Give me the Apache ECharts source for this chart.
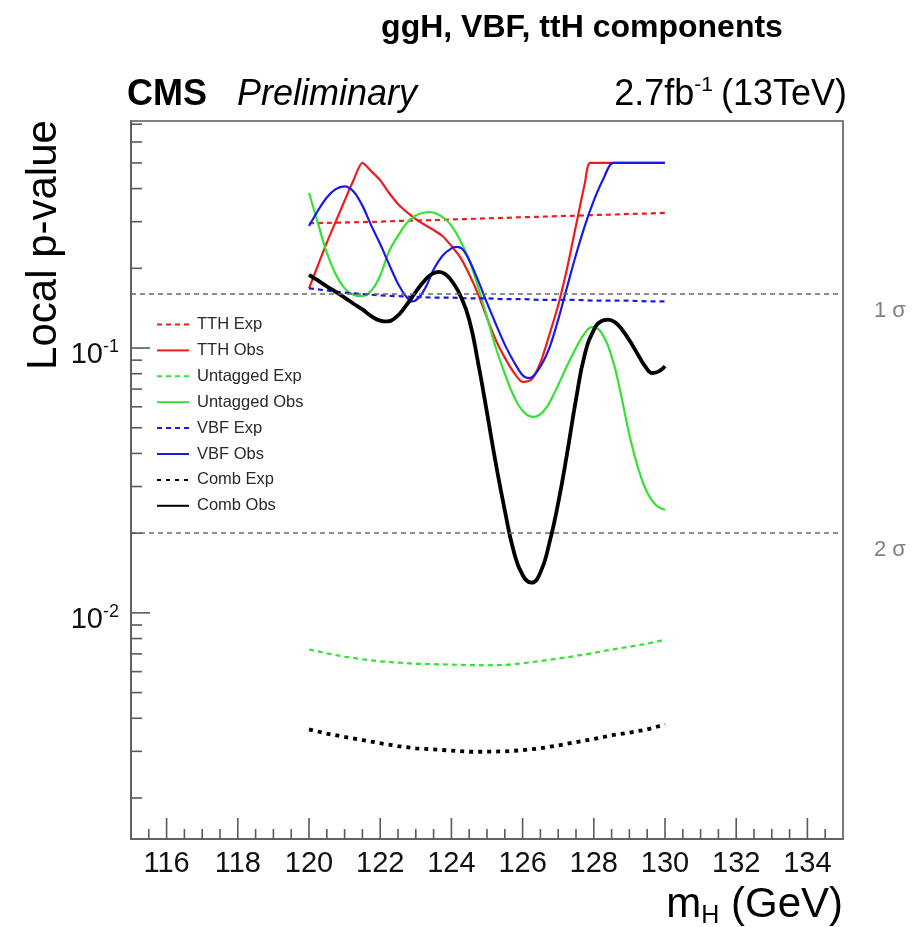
<!DOCTYPE html>
<html>
<head>
<meta charset="utf-8">
<title>ggH, VBF, ttH components</title>
<script src="https://cdn.jsdelivr.net/npm/echarts@6/dist/echarts.min.js"></script>
<style>
  html, body { margin: 0; padding: 0; background: #fff; }
  #chart { width: 924px; height: 927px; }
</style>
</head>
<body>
<div id="chart"></div>
<script>
// Local p-value scan versus Higgs mass, per category and combined.

// Axis ranges and tick positions
const massRange = [115, 135];
const pRange = [0.0014, 0.72];
const xMajorTicks = [116, 118, 120, 122, 124, 126, 128, 130, 132, 134];
const xMinorTicks = [115.5, 116.5, 117, 117.5, 118.5, 119, 119.5, 120.5, 121, 121.5,
  122.5, 123, 123.5, 124.5, 125, 125.5, 126.5, 127, 127.5, 128.5, 129, 129.5,
  130.5, 131, 131.5, 132.5, 133, 133.5, 134.5];
const yMajorTicks = [0.01, 0.1];
const yMinorTicks = [0.002, 0.003, 0.004, 0.005, 0.006, 0.007, 0.008, 0.009,
  0.02, 0.03, 0.04, 0.05, 0.06, 0.07, 0.08, 0.09,
  0.2, 0.3, 0.4, 0.5, 0.6, 0.7];

// Significance reference lines
const sigmaLevels = [0.1587, 0.02275];
const sigmaLabels = ['1 σ', '2 σ'];

// Expected p-values on a 0.5 GeV grid
const massExp = [120, 120.5, 121, 121.5, 122, 122.5, 123, 123.5, 124, 124.5, 125,
  125.5, 126, 126.5, 127, 127.5, 128, 128.5, 129, 129.5, 130];
const tthExp = [0.296, 0.297, 0.298, 0.299, 0.300, 0.302, 0.303, 0.304, 0.306, 0.307, 0.309,
  0.310, 0.312, 0.313, 0.315, 0.316, 0.318, 0.319, 0.321, 0.322, 0.324];
const untaggedExp = [0.00727, 0.00703, 0.00683, 0.00668, 0.00656, 0.00649, 0.00642, 0.00640,
  0.00638, 0.00635, 0.00634, 0.00636, 0.00645, 0.00658, 0.00672, 0.00688, 0.00706, 0.00727,
  0.00745, 0.00765, 0.00792];
const vbfExp = [0.168, 0.165, 0.162, 0.160, 0.158, 0.157, 0.156, 0.155, 0.155, 0.154, 0.154,
  0.153, 0.153, 0.152, 0.152, 0.152, 0.151, 0.151, 0.151, 0.150, 0.150];
const combExp = [0.00363, 0.00350, 0.00340, 0.00331, 0.00322, 0.00314, 0.00308, 0.00305,
  0.00302, 0.00299, 0.00299, 0.00300, 0.00303, 0.00308, 0.00316, 0.00325, 0.00334, 0.00345,
  0.00353, 0.00363, 0.00379];

// Observed p-values
const massTthObs = [120, 120.25, 120.5, 120.75, 121, 121.25, 121.5, 121.75, 122, 122.25, 122.5,
  122.75, 123, 123.25, 123.5, 123.75, 124, 124.25, 124.5, 124.75, 125, 125.25, 125.5, 125.75,
  126, 126.25, 126.5, 126.75, 127, 127.25, 127.5, 127.75, 127.9, 128.5, 129, 129.5, 130];
const tthObs = [0.168, 0.205, 0.25, 0.30, 0.36, 0.43, 0.50, 0.465, 0.43, 0.385, 0.35,
  0.326, 0.307, 0.292, 0.279, 0.265, 0.243, 0.22, 0.19, 0.16, 0.13, 0.107, 0.092, 0.081,
  0.0745, 0.076, 0.088, 0.112, 0.145, 0.20, 0.29, 0.42, 0.50, 0.50, 0.50, 0.50, 0.50];

const massUntaggedObs = [120, 120.25, 120.5, 120.75, 121, 121.25, 121.45, 121.75, 122, 122.25,
  122.5, 122.75, 123, 123.25, 123.4, 123.6, 123.8, 124, 124.25, 124.5, 124.75, 125, 125.25,
  125.5, 125.75, 126, 126.3, 126.6, 126.9, 127.2, 127.5, 127.75, 127.95, 128.2, 128.5, 128.75,
  129, 129.25, 129.5, 129.75, 130];
const untaggedObs = [0.385, 0.297, 0.229, 0.19, 0.168, 0.159, 0.157, 0.165, 0.188, 0.232,
  0.265, 0.297, 0.317, 0.325, 0.326, 0.321, 0.309, 0.29, 0.255, 0.215, 0.17, 0.131, 0.100,
  0.080, 0.066, 0.058, 0.055, 0.058, 0.068, 0.083, 0.100, 0.114, 0.120, 0.115, 0.093, 0.068,
  0.047, 0.035, 0.0285, 0.0255, 0.0245];

const massVbfObs = [120, 120.25, 120.5, 120.75, 121, 121.25, 121.5, 121.75, 122, 122.25, 122.5,
  122.75, 122.9, 123.1, 123.3, 123.5, 123.75, 124, 124.15, 124.3, 124.5, 124.75, 125, 125.25,
  125.5, 125.75, 126, 126.2, 126.45, 126.75, 127, 127.25, 127.5, 127.75, 128, 128.25, 128.55,
  129, 129.5, 130];
const vbfObs = [0.289, 0.33, 0.37, 0.398, 0.408, 0.39, 0.345, 0.29, 0.247, 0.207, 0.175,
  0.155, 0.150, 0.156, 0.172, 0.198, 0.223, 0.238, 0.241, 0.237, 0.215, 0.18, 0.148, 0.123,
  0.103, 0.089, 0.079, 0.077, 0.083, 0.100, 0.128, 0.17, 0.225, 0.29, 0.36, 0.43, 0.50,
  0.50, 0.50, 0.50];

const massCombObs = [120, 120.25, 120.5, 120.75, 121, 121.25, 121.5, 121.75, 122, 122.2, 122.45,
  122.7, 123, 123.25, 123.45, 123.65, 123.85, 124.05, 124.25, 124.5, 124.75, 125, 125.25, 125.5,
  125.75, 126, 126.25, 126.5, 126.75, 127, 127.25, 127.5, 127.75, 128, 128.2, 128.4, 128.6,
  128.8, 129, 129.25, 129.45, 129.65, 129.85, 130];
const combObs = [0.189, 0.18, 0.171, 0.163, 0.155, 0.147, 0.14, 0.132, 0.127, 0.126, 0.131,
  0.143, 0.163, 0.180, 0.190, 0.194, 0.189, 0.176, 0.158, 0.128, 0.088, 0.057, 0.0365, 0.0244,
  0.0171, 0.0139, 0.0130, 0.0142, 0.0183, 0.026, 0.040, 0.064, 0.095, 0.117, 0.126, 0.128,
  0.125, 0.117, 0.107, 0.094, 0.085, 0.0805, 0.082, 0.0855];

const FONT = '"Liberation Sans", Arial, Helvetica, sans-serif';
const FRAME = '#5a5a5a';
const RED = '#f01c1c', GREEN = '#33e233', BLUE = '#1a1ae8', BLACK = '#000';

const zip = (xs, ys) => xs.map((x, i) => [x, ys[i]]);

function curve(name, xs, ys, color, width, dash, smooth) {
  return {
    name, type: 'line', data: zip(xs, ys),
    symbol: 'none', smooth: smooth || false,
    lineStyle: { color, width, type: dash || 'solid', cap: 'butt' },
    itemStyle: { color },
    emphasis: { disabled: true }, z: 3
  };
}

// Tick marks along the inner side of the bottom and left axes
function ticks(values, dim, len) {
  return {
    type: 'custom', silent: true, clip: false, z: 6,
    data: values.map(v => dim === 'x' ? [v, pRange[0]] : [massRange[0], v]),
    renderItem: (params, api) => {
      const p = api.coord([api.value(0), api.value(1)]);
      const shape = dim === 'x'
        ? { x1: p[0], y1: p[1], x2: p[0], y2: p[1] - len }
        : { x1: p[0], y1: p[1], x2: p[0] + len, y2: p[1] };
      return { type: 'line', shape, style: { stroke: FRAME, lineWidth: 1.6 } };
    }
  };
}

const sigmaMarks = {
  silent: true, symbol: 'none',
  lineStyle: { color: '#6a6a6a', width: 1.6, type: [5, 4] },
  label: {
    show: true, position: 'end', distance: 31,
    formatter: p => '{a|' + p.name + '}',
    rich: {
      a: { color: '#808080', fontFamily: FONT, fontSize: 22, padding: [34, 0, 0, 0] }
    }
  },
  data: sigmaLevels.map((v, i) => ({ yAxis: v, name: sigmaLabels[i] }))
};

const series = [
  curve('TTH Exp', massExp, tthExp, RED, 2.2, [5, 4]),
  curve('TTH Obs', massTthObs, tthObs, RED, 2.2, 'solid', 0.25),
  curve('Untagged Exp', massExp, untaggedExp, GREEN, 2.2, [5, 4]),
  curve('Untagged Obs', massUntaggedObs, untaggedObs, GREEN, 2.2, 'solid', 0.45),
  curve('VBF Exp', massExp, vbfExp, BLUE, 2.2, [5, 4]),
  curve('VBF Obs', massVbfObs, vbfObs, BLUE, 2.2, 'solid', 0.3),
  curve('Comb Exp', massExp, combExp, BLACK, 3.8, [4, 5]),
  curve('Comb Obs', massCombObs, combObs, BLACK, 3.8, 'solid', 0.5),
  ticks(xMajorTicks, 'x', 21),
  ticks(xMinorTicks, 'x', 10),
  ticks(yMajorTicks, 'y', 19),
  ticks(yMinorTicks, 'y', 11)
];
// Reference lines ride on the first curve
series[0].markLine = sigmaMarks;

const isPow10 = v => Math.abs(Math.log10(v) - Math.round(Math.log10(v))) < 1e-6;

const option = {
  animation: false,
  backgroundColor: '#fff',
  textStyle: { fontFamily: FONT },
  grid: {
    left: 131, right: 81, top: 121, bottom: 88,
    show: true, borderColor: FRAME, borderWidth: 1.6, backgroundColor: 'transparent'
  },
  xAxis: {
    type: 'value', min: massRange[0], max: massRange[1], splitNumber: 10,
    axisLine: { show: true, lineStyle: { color: FRAME, width: 1.6 } },
    axisTick: { show: false }, splitLine: { show: false },
    axisLabel: {
      color: '#111', fontSize: 29, fontFamily: FONT, margin: 10,
      formatter: v => (Math.abs(v % 2) < 1e-9 ? String(v) : '')
    }
  },
  yAxis: {
    type: 'log', logBase: 10, min: pRange[0], max: pRange[1],
    axisLine: { show: true, lineStyle: { color: FRAME, width: 1.6 } },
    axisTick: { show: false }, splitLine: { show: false },
    axisLabel: {
      margin: 12, padding: [14, 0, 0, 0],
      formatter: v => isPow10(v) ? '{b|10}{s|' + Math.round(Math.log10(v)) + '}' : '',
      rich: {
        b: { fontSize: 29, color: '#111', fontFamily: FONT, lineHeight: 34 },
        s: { fontSize: 18, color: '#111', fontFamily: FONT, verticalAlign: 'top', lineHeight: 34, padding: [0, 0, 14, 0] }
      }
    }
  },
  legend: {
    data: ['TTH Exp', 'TTH Obs', 'Untagged Exp', 'Untagged Obs', 'VBF Exp', 'VBF Obs', 'Comb Exp', 'Comb Obs'],
    orient: 'vertical', left: 156, top: 316, padding: 0,
    itemWidth: 32, itemHeight: 14, itemGap: 8.9,
    itemStyle: { opacity: 0 },
    textStyle: { fontFamily: FONT, fontSize: 16.5, color: '#2a2a2a', padding: [0, 0, 0, 3] },
    selectedMode: false
  },
  graphic: [
    { type: 'text', x: 582, y: 28, style: { text: 'ggH, VBF, ttH components', font: 'bold 32px ' + FONT, fill: '#000', align: 'center', verticalAlign: 'middle' } },
    { type: 'text', x: 127, y: 95, style: { text: 'CMS', font: 'bold 36px ' + FONT, fill: '#000', align: 'left', verticalAlign: 'middle' } },
    { type: 'text', x: 237, y: 95, style: { text: 'Preliminary', font: 'italic 36px ' + FONT, fill: '#000', align: 'left', verticalAlign: 'middle' } },
    { type: 'text', x: 847, y: 95, style: {
        text: '{n|2.7fb}{s|-1}{n|(13TeV)}', align: 'right', verticalAlign: 'middle',
        rich: {
          n: { fontSize: 36, fontFamily: FONT, fill: '#000', lineHeight: 40 },
          s: { fontSize: 21, fontFamily: FONT, fill: '#000', verticalAlign: 'top', lineHeight: 40, padding: [0, 8, 16, 0] }
        }
    } },
    { type: 'text', x: 44, y: 245, rotation: Math.PI / 2, style: { text: 'Local p-value', font: '42px ' + FONT, fill: '#000', align: 'center', verticalAlign: 'middle' } },
    { type: 'text', x: 843, y: 905, style: {
        text: '{n|m}{s|H}{n| (GeV)}', align: 'right', verticalAlign: 'middle',
        rich: {
          n: { fontSize: 42, fontFamily: FONT, fill: '#000', lineHeight: 48 },
          s: { fontSize: 25, fontFamily: FONT, fill: '#000', verticalAlign: 'bottom', lineHeight: 48, padding: [16, 0, 0, 0] }
        }
    } }
  ],
  series
};

const chart = echarts.init(document.getElementById('chart'), null, { renderer: 'canvas' });
chart.setOption(option);
</script>
</body>
</html>
